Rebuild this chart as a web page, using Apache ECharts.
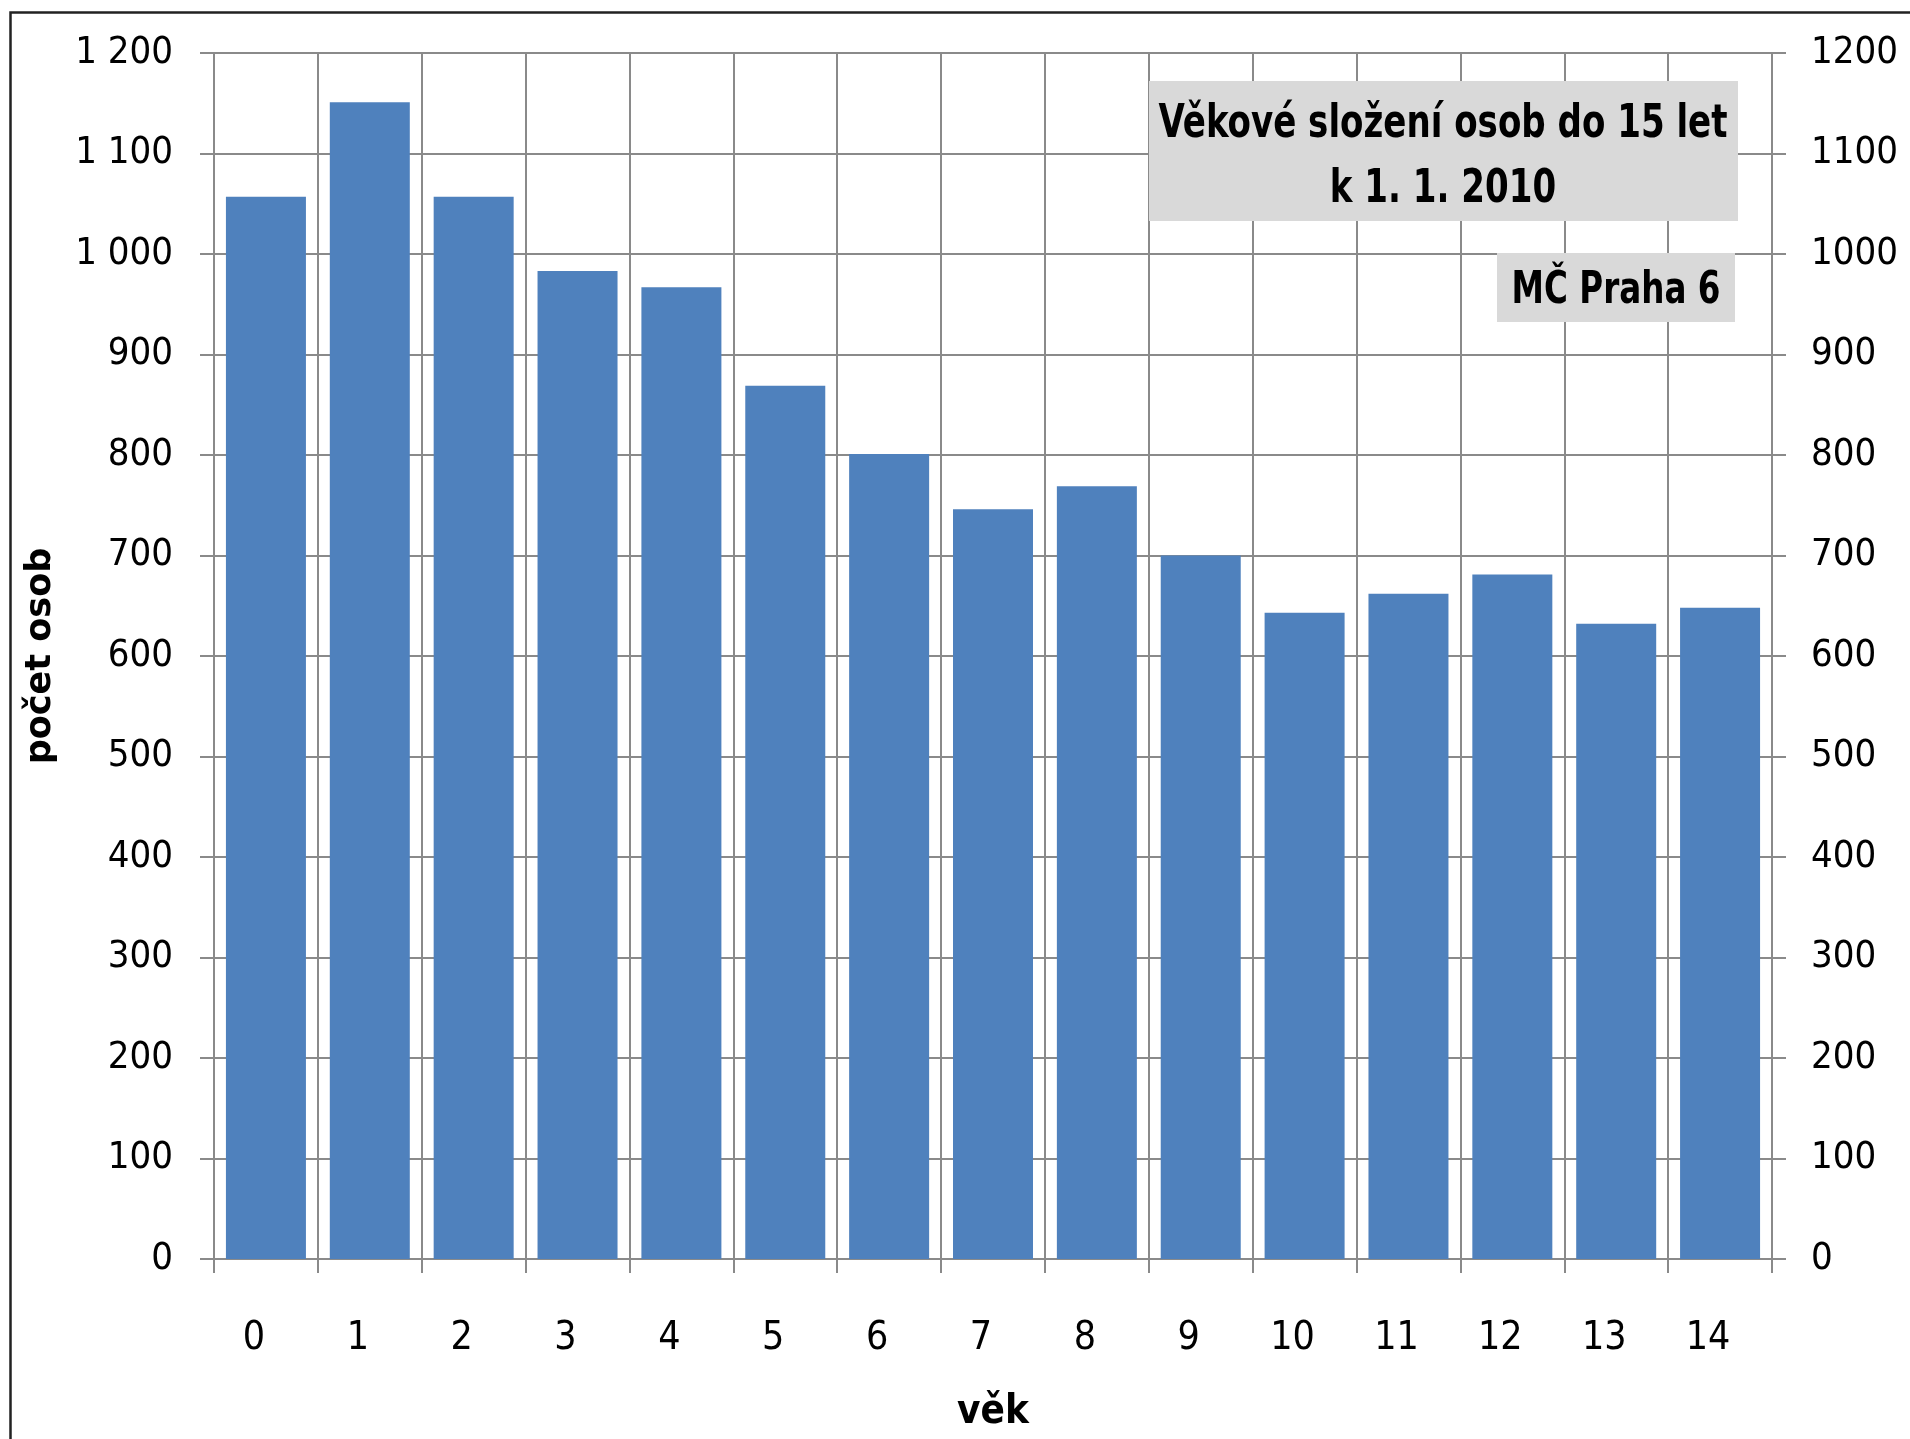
<!DOCTYPE html>
<html>
<head>
<meta charset="utf-8">
<script src="https://cdn.jsdelivr.net/npm/echarts@6/dist/echarts.min.js"></script>
<style>
html,body{margin:0;padding:0;background:#fff;}
#chart{width:1910px;height:1439px;}
</style>
</head>
<body>
<div id="chart"></div>
<script>
const categories = ['0','1','2','3','4','5','6','7','8','9','10','11','12','13','14'];
const counts = [1057, 1151, 1057, 983, 967, 869, 801, 746, 769, 700, 643, 662, 681, 632, 648];
const yTicks = { min: 0, max: 1200, step: 100 };
const titleLines = ['Věkové složení osob do 15 let', 'k 1. 1. 2010'];
const subTitle = 'MČ Praha 6';
const xName = 'věk';
const yName = 'počet osob';

const NARROW = "'DejaVu Sans Condensed', 'Liberation Sans', sans-serif";
const GRID = '#8a8a8a';

// horizontal squeeze so the boxed titles keep the reference's narrow look
const mctx = document.createElement('canvas').getContext('2d');
const TITLE_FONT = "bold 46px " + NARROW;
mctx.font = TITLE_FONT;
const titleScale = Math.min(1, 569 / mctx.measureText(titleLines[0]).width);

const chart = echarts.init(document.getElementById('chart'), null, {renderer: 'canvas'});

const commonY = {
  type: 'value',
  min: yTicks.min, max: yTicks.max, interval: yTicks.step,
  axisLine: {show: true, lineStyle: {color: GRID, width: 2}},
  axisTick: {show: true, length: 14, inside: false, lineStyle: {color: GRID, width: 2}},
  splitLine: {show: true, lineStyle: {color: GRID, width: 2}}
};

chart.setOption({
  animation: false,
  backgroundColor: '#fff',
  grid: {left: 214, right: 138, top: 53, bottom: 180, containLabel: false},
  xAxis: {
    type: 'category',
    data: categories,
    boundaryGap: true,
    name: xName,
    nameLocation: 'middle',
    nameGap: 134,
    nameTextStyle: {fontFamily: NARROW, fontWeight: 'bold', fontSize: 40, color: '#000'},
    axisLine: {show: true, lineStyle: {color: GRID, width: 2}},
    axisTick: {show: true, length: 14, alignWithLabel: false, lineStyle: {color: GRID, width: 2}},
    splitLine: {show: true, lineStyle: {color: GRID, width: 2}},
    axisLabel: {margin: 60, padding: [0, 24, 0, 0], fontFamily: NARROW, fontSize: 39, color: '#000'}
  },
  yAxis: [
    Object.assign({}, commonY, {
      position: 'left',
      name: yName,
      nameLocation: 'middle',
      nameRotate: 90,
      nameGap: 156,
      nameTextStyle: {fontFamily: "'DejaVu Sans', sans-serif", fontWeight: 'bold', fontSize: 35, color: '#000'},
      axisLabel: {
        margin: 41, fontFamily: NARROW, fontSize: 38, color: '#000',
        formatter: v => String(v).replace(/\B(?=(\d{3})+(?!\d))/g, ' ')
      }
    }),
    Object.assign({}, commonY, {
      position: 'right',
      splitLine: {show: false},
      axisLabel: {margin: 39, fontFamily: NARROW, fontSize: 38, color: '#000',
        formatter: v => String(v)}
    })
  ],
  series: [{
    type: 'bar',
    data: counts,
    yAxisIndex: 0,
    barWidth: 80,
    itemStyle: {color: '#4F81BD'}
  }],
  graphic: [
    {type: 'rect', left: 8, top: 10, z: 0, silent: true,
     shape: {width: 1930, height: 1460},
     style: {fill: null, stroke: '#222', lineWidth: 2.5}},
    {type: 'rect', left: 1149, top: 81, z: 10,
     shape: {width: 589, height: 140},
     style: {fill: '#d9d9d9'}},
    {type: 'text', x: 1443, y: 125, z: 11, scaleX: titleScale,
     style: {text: titleLines[0], fill: '#000', font: TITLE_FONT, textAlign: 'center', textVerticalAlign: 'middle'}},
    {type: 'text', x: 1443, y: 190, z: 11, scaleX: titleScale,
     style: {text: titleLines[1], fill: '#000', font: TITLE_FONT, textAlign: 'center', textVerticalAlign: 'middle'}},
    {type: 'rect', left: 1497, top: 253, z: 10,
     shape: {width: 238, height: 69},
     style: {fill: '#d9d9d9'}},
    {type: 'text', x: 1616, y: 292, z: 11, scaleX: titleScale,
     style: {text: subTitle, fill: '#000', font: "bold 44px " + NARROW, textAlign: 'center', textVerticalAlign: 'middle'}}
  ]
});
</script>
</body>
</html>
